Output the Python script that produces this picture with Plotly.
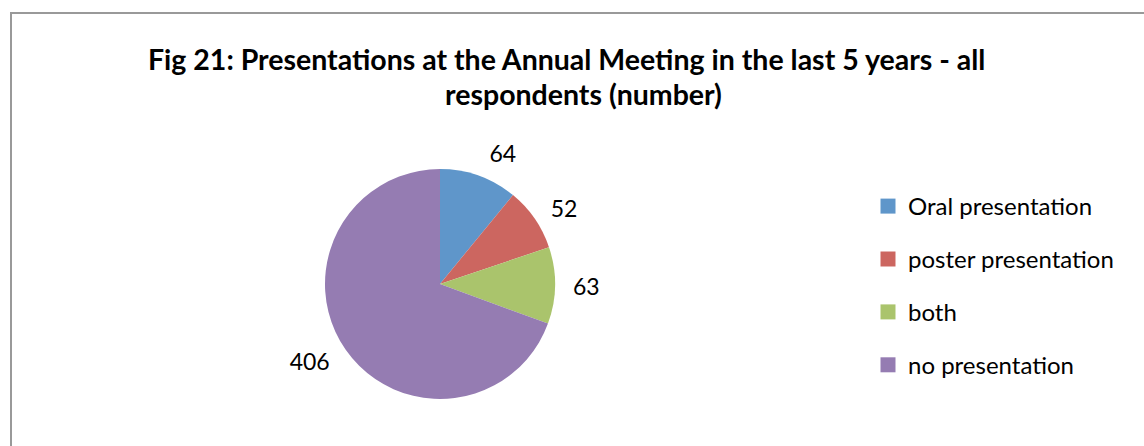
import plotly.graph_objects as go

categories = ["Oral presentation", "poster presentation", "both", "no presentation"]
values = [64, 52, 63, 406]
colors = ["#5F96CA", "#CC6660", "#AAC46C", "#957CB2"]
title_lines = ["Fig 21: Presentations at the Annual Meeting in the last 5 years - all",
               "respondents (number)"]

W, H = 1144, 446
FONT = "Lato"
CX, CY, R, R_LBL = 440, 284, 115, 126


def dom(r):
    return dict(x=[(CX - r) / W, (CX + r) / W], y=[(H - CY - r) / H, (H - CY + r) / H])


fig = go.Figure()
# visible pie
fig.add_trace(go.Pie(
    labels=categories, values=values, sort=False, direction="clockwise", rotation=0,
    marker=dict(colors=colors, line=dict(width=0)),
    textinfo="none", showlegend=False, domain=dom(R),
    hoverinfo="label+value",
))
# transparent pie carrying the outside value labels
fig.add_trace(go.Pie(
    labels=categories, values=values, sort=False, direction="clockwise", rotation=0,
    marker=dict(colors=["rgba(0,0,0,0)"] * len(values), line=dict(width=0)),
    textinfo="value", textposition="outside",
    textfont=dict(family=FONT, size=23, color="#000000"),
    showlegend=False, domain=dom(R_LBL), hoverinfo="skip",
))

for i, (c, col) in enumerate(zip(categories, colors)):
    fig.add_trace(go.Scatter(
        x=[None], y=[None], mode="markers", name=c, legendgroup=f"g{i}",
        marker=dict(symbol="square", size=15, color=col),
    ))

fig.update_layout(
    width=W, height=H, margin=dict(l=0, r=0, t=0, b=0),
    paper_bgcolor="white", plot_bgcolor="white",
    xaxis=dict(visible=False), yaxis=dict(visible=False),
    legend=dict(x=868 / W, y=1 - 184 / H, xanchor="left", yanchor="top",
                font=dict(family=FONT, size=24, color="#000000"),
                tracegroupgap=18.7, itemwidth=30, bgcolor="rgba(0,0,0,0)"),
    shapes=[dict(type="rect", xref="paper", yref="paper",
                 x0=11 / W, x1=1.01, y0=-0.01, y1=1 - 13 / H,
                 line=dict(color="#999999", width=2))],
    annotations=[
        dict(text=f"<b>{title_lines[0]}</b>", x=566 / W, y=1 - 59 / H, xref="paper", yref="paper",
             showarrow=False, font=dict(family=FONT, size=28.5, color="#000000"), xanchor="center", yanchor="middle"),
        dict(text=f"<b>{title_lines[1]}</b>", x=583 / W, y=1 - 94 / H, xref="paper", yref="paper",
             showarrow=False, font=dict(family=FONT, size=28.5, color="#000000"), xanchor="center", yanchor="middle"),
    ],
)

fig.write_html("out.html", config={"displayModeBar": False},
               post_script="document.body.style.margin='0';document.body.style.overflow='hidden';")
